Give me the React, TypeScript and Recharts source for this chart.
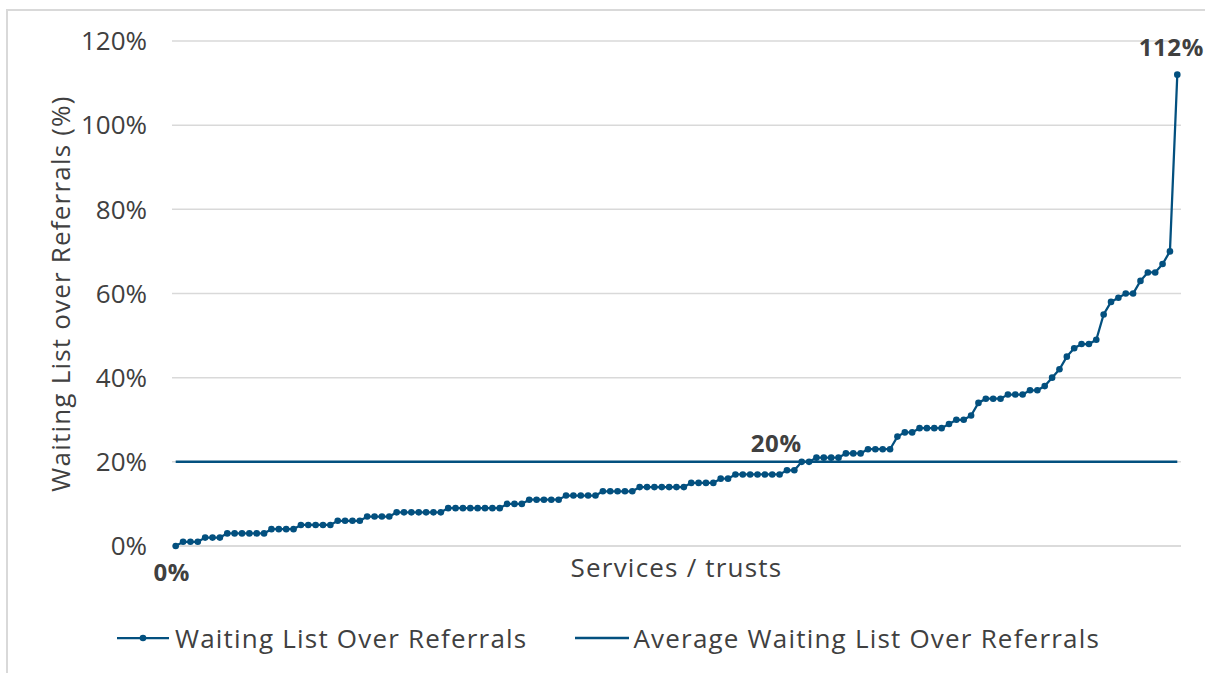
import React from 'react';
import { LineChart, Line, XAxis, YAxis, CartesianGrid, LabelList, Label } from 'recharts';

// waiting list as % of referrals, one point per service / trust, sorted ascending
const WAITING_OVER_REFERRALS = [
  0, 1, 1, 1, 2, 2, 2, 3, 3, 3, 3, 3, 3, 4, 4, 4, 4, 5, 5, 5,
  5, 5, 6, 6, 6, 6, 7, 7, 7, 7, 8, 8, 8, 8, 8, 8, 8, 9, 9, 9,
  9, 9, 9, 9, 9, 10, 10, 10, 11, 11, 11, 11, 11, 12, 12, 12, 12, 12, 13, 13,
  13, 13, 13, 14, 14, 14, 14, 14, 14, 14, 15, 15, 15, 15, 16, 16, 17, 17, 17, 17,
  17, 17, 17, 18, 18, 20, 20, 21, 21, 21, 21, 22, 22, 22, 23, 23, 23, 23, 26, 27,
  27, 28, 28, 28, 28, 29, 30, 30, 31, 34, 35, 35, 35, 36, 36, 36, 37, 37, 38, 40,
  42, 45, 47, 48, 48, 49, 55, 58, 59, 60, 60, 63, 65, 65, 67, 70, 112,
];
const AVERAGE_WAITING = 20;
const Y_TICKS = [0, 20, 40, 60, 80, 100, 120];
const SERIES_NAMES = ['Waiting List Over Referrals', 'Average Waiting List Over Referrals'];
const Y_TITLE = 'Waiting List over Referrals (%)';
const X_TITLE = 'Services / trusts';
const AVG_LABEL_AT = 81;

const BLUE = '#03507F';
const GRID = '#d9d9d9';
const TEXT = '#404040';
const FONT = "'Open Sans', sans-serif";
const SPACING = 1.2;

const data = WAITING_OVER_REFERRALS.map((v, i) => ({
  service: `S${i + 1}`,
  ratio: v,
  avg: AVERAGE_WAITING,
}));

const pct = (v: number) => `${v}%`;

const boldText = (x: number, y: number, s: string) => (
  <text x={x} y={y} textAnchor="middle" dominantBaseline="central" fill={TEXT}
    fontSize={24} fontWeight={700} fontFamily={FONT} letterSpacing={0.6}>{s}</text>
);

const ratioLabel = (props: any) => {
  const { x, y, index, value } = props;
  if (index === 0) return boldText(x - 4, y + 25, pct(value));
  if (index === WAITING_OVER_REFERRALS.length - 1) return boldText(x - 6, y - 28, pct(value));
  return null;
};

const avgLabel = (props: any) => {
  const { x, y, index, value } = props;
  if (index !== AVG_LABEL_AT) return null;
  return boldText(x + 4, y - 19, pct(value));
};

const App: React.FC = () => {
  return (
    <div style={{ position: 'fixed', left: 0, top: 0, width: 1205, height: 673, overflow: 'hidden', background: '#fff', fontFamily: FONT }}>
      <div style={{ position: 'absolute', left: 6, top: 9, width: 1240, height: 720, border: `2px solid ${GRID}` }} />
      <div style={{ position: 'absolute', left: 0, top: 0 }}>
        <LineChart width={1205} height={673} data={data} margin={{ top: 41, right: 24, bottom: 106, left: 0 }}>
          <CartesianGrid vertical={false} stroke={GRID} strokeWidth={1.5} />
          <XAxis dataKey="service" height={21} tick={false} tickLine={false}
            axisLine={{ stroke: GRID, strokeWidth: 1.5 }} padding={{ left: 3.7, right: 3.7 }} interval={0}>
            <Label content={(p: any) => {
              const vb = p.viewBox;
              return (
                <text x={vb.x + vb.width / 2} y={vb.y + 21} textAnchor="middle" dominantBaseline="central"
                  fill={TEXT} fontSize={26} letterSpacing={SPACING} fontFamily={FONT}>{X_TITLE}</text>
              );
            }} />
          </XAxis>
          <YAxis width={172} domain={[0, 120]} ticks={Y_TICKS} tickFormatter={pct}
            axisLine={false} tickLine={false} tickSize={0} tickMargin={25}
            tick={{ fill: TEXT, fontSize: 26, fontFamily: FONT }}>
            <Label content={(p: any) => {
              const vb = p.viewBox;
              const cy = vb.y + vb.height / 2;
              return (
                <text x={60} y={cy} transform={`rotate(-90, 60, ${cy})`} textAnchor="middle"
                  dominantBaseline="central" fill={TEXT} fontSize={26} letterSpacing={SPACING}
                  fontFamily={FONT}>{Y_TITLE}</text>
              );
            }} />
          </YAxis>
          <Line dataKey="avg" name={SERIES_NAMES[1]} stroke={BLUE} strokeWidth={2.5} dot={false}
            activeDot={false} isAnimationActive={false}>
            <LabelList dataKey="avg" content={avgLabel} />
          </Line>
          <Line dataKey="ratio" name={SERIES_NAMES[0]} stroke={BLUE} strokeWidth={2.25}
            dot={{ r: 3.3, fill: BLUE, stroke: 'none' }} activeDot={false} isAnimationActive={false}>
            <LabelList dataKey="ratio" content={ratioLabel} />
          </Line>
        </LineChart>
      </div>
      <div style={{ position: 'absolute', left: 117, top: 622, height: 32, display: 'flex', alignItems: 'center', color: TEXT, fontSize: 26, letterSpacing: SPACING, whiteSpace: 'nowrap' }}>
        <svg width={52} height={16}>
          <line x1={0} y1={8} x2={52} y2={8} stroke={BLUE} strokeWidth={2.25} />
          <circle cx={26} cy={8} r={3.3} fill={BLUE} />
        </svg>
        <span style={{ marginLeft: 6 }}>{SERIES_NAMES[0]}</span>
        <svg width={54} height={16} style={{ marginLeft: 48 }}>
          <line x1={0} y1={8} x2={54} y2={8} stroke={BLUE} strokeWidth={2.5} />
        </svg>
        <span style={{ marginLeft: 4 }}>{SERIES_NAMES[1]}</span>
      </div>
    </div>
  );
};

export default App;
